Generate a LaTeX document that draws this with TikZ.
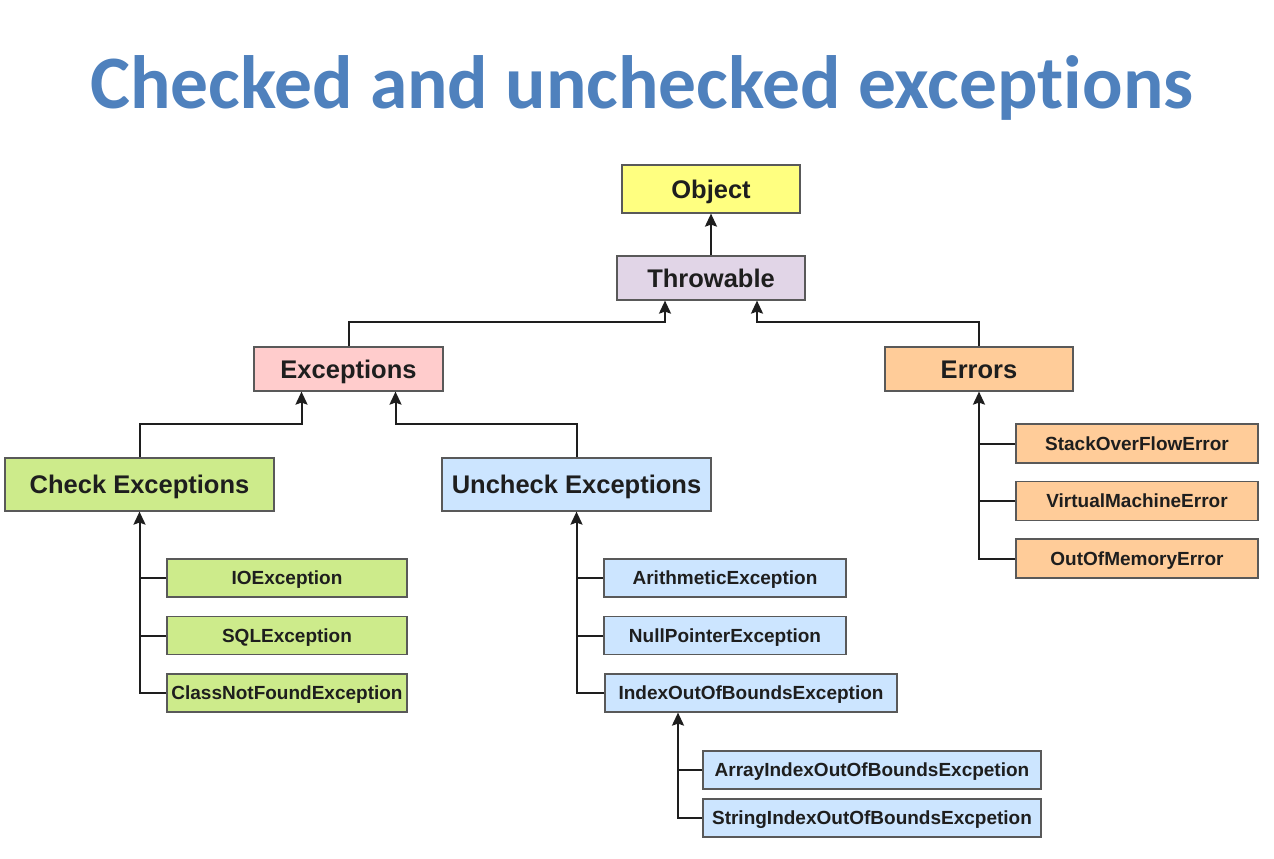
\documentclass[tikz,border=0pt]{standalone}
\usepackage{fontspec}
\setmainfont{Liberation Sans}
\newfontfamily\titlefont[Ligatures=NoCommon]{Carlito}
\usetikzlibrary{arrows.meta}
\definecolor{titleblue}{RGB}{79,129,189}
\definecolor{objyellow}{RGB}{255,255,128}
\definecolor{thrlilac}{RGB}{225,213,231}
\definecolor{excpink}{RGB}{255,204,204}
\definecolor{errorange}{RGB}{255,204,153}
\definecolor{chkgreen}{RGB}{205,235,139}
\definecolor{unchkblue}{RGB}{204,229,255}
\definecolor{inkdark}{RGB}{30,30,30}
\begin{document}
\begin{tikzpicture}[x=1pt,y=-1pt,
  box/.style={draw=black!65,line width=1.2pt,inner sep=0pt,text=inkdark,text depth=0pt},
  mid/.style={box,text height=18.4pt,font=\fontsize{25.5}{30}\selectfont\bfseries},
  leaf/.style={box,text height=13.7pt,minimum height=38pt,font=\fontsize{19}{23}\selectfont\bfseries},
  link/.style={draw=inkdark,line width=2pt},
  arr/.style={link,-{Stealth[length=13pt,width=12pt,inset=2pt]}}]
\useasboundingbox (0,0) rectangle (1274,859);
\node[anchor=base,text=titleblue,font=\titlefont\fontsize{75.5}{90}\selectfont\bfseries] (title) at (642,108) {Checked and unchecked exceptions};
% top of the tree
\node[mid,fill=objyellow,minimum width=178pt,minimum height=48pt] (obj) at (711,189) {Object};
\node[mid,fill=thrlilac,minimum width=188pt,minimum height=44pt] (thr) at (711,278) {Throwable};
\node[mid,fill=excpink,minimum width=189pt,minimum height=44pt] (exc) at (348.5,369) {Exceptions};
\node[mid,fill=errorange,minimum width=188pt,minimum height=44pt] (err) at (979,369) {Errors};
\node[mid,fill=chkgreen,minimum width=269pt,minimum height=53pt] (chk) at (139.5,484.5) {Check Exceptions};
\node[mid,fill=unchkblue,minimum width=269pt,minimum height=53pt] (unchk) at (576.5,484.5) {Uncheck Exceptions};
% checked
\node[leaf,fill=chkgreen,minimum width=240pt] (io) at (287,578) {IOException};
\node[leaf,fill=chkgreen,minimum width=240pt] (sql) at (287,635.5) {SQLException};
\node[leaf,fill=chkgreen,minimum width=240pt] (cnf) at (287,693) {ClassNotFoundException};
% unchecked
\node[leaf,fill=unchkblue,minimum width=242pt] (arith) at (725,578) {ArithmeticException};
\node[leaf,fill=unchkblue,minimum width=242pt] (npe) at (725,635.5) {NullPointerException};
\node[leaf,fill=unchkblue,minimum width=292pt] (ioob) at (751,693) {IndexOutOfBoundsException};
\node[leaf,fill=unchkblue,minimum width=338pt] (aioob) at (872,770) {ArrayIndexOutOfBoundsExcpetion};
\node[leaf,fill=unchkblue,minimum width=338pt] (sioob) at (872,818) {StringIndexOutOfBoundsExcpetion};
\coordinate (ioobfoot) at ([xshift=-73pt]ioob.south);
% errors
\node[leaf,fill=errorange,minimum width=242pt,minimum height=39pt] (soe) at (1137,443.5) {StackOverFlowError};
\node[leaf,fill=errorange,minimum width=242pt,minimum height=39pt] (vme) at (1137,501) {VirtualMachineError};
\node[leaf,fill=errorange,minimum width=242pt,minimum height=39pt] (oom) at (1137,558.5) {OutOfMemoryError};
% connectors
\draw[arr] (thr.north) -- (obj.south);
\draw[arr] (exc.north) -- ++(0,-24) -| ([xshift=-46pt]thr.south);
\draw[arr] (err.north) -- ++(0,-24) -| ([xshift=46pt]thr.south);
\draw[arr] (chk.north) -- ++(0,-33) -| ([xshift=-47pt]exc.south);
\draw[arr] (unchk.north) -- ++(0,-33) -| ([xshift=47pt]exc.south);
\draw[arr] (cnf.west) -| (chk.south);
\draw[link] (io.west) -- (io.west -| chk.south);
\draw[link] (sql.west) -- (sql.west -| chk.south);
\draw[arr] (ioob.west) -| (unchk.south);
\draw[link] (arith.west) -- (arith.west -| unchk.south);
\draw[link] (npe.west) -- (npe.west -| unchk.south);
\draw[arr] (sioob.west) -| (ioobfoot);
\draw[link] (aioob.west) -- (aioob.west -| ioobfoot);
\draw[arr] (oom.west) -| (err.south);
\draw[link] (soe.west) -- (soe.west -| err.south);
\draw[link] (vme.west) -- (vme.west -| err.south);
\end{tikzpicture}
\end{document}
